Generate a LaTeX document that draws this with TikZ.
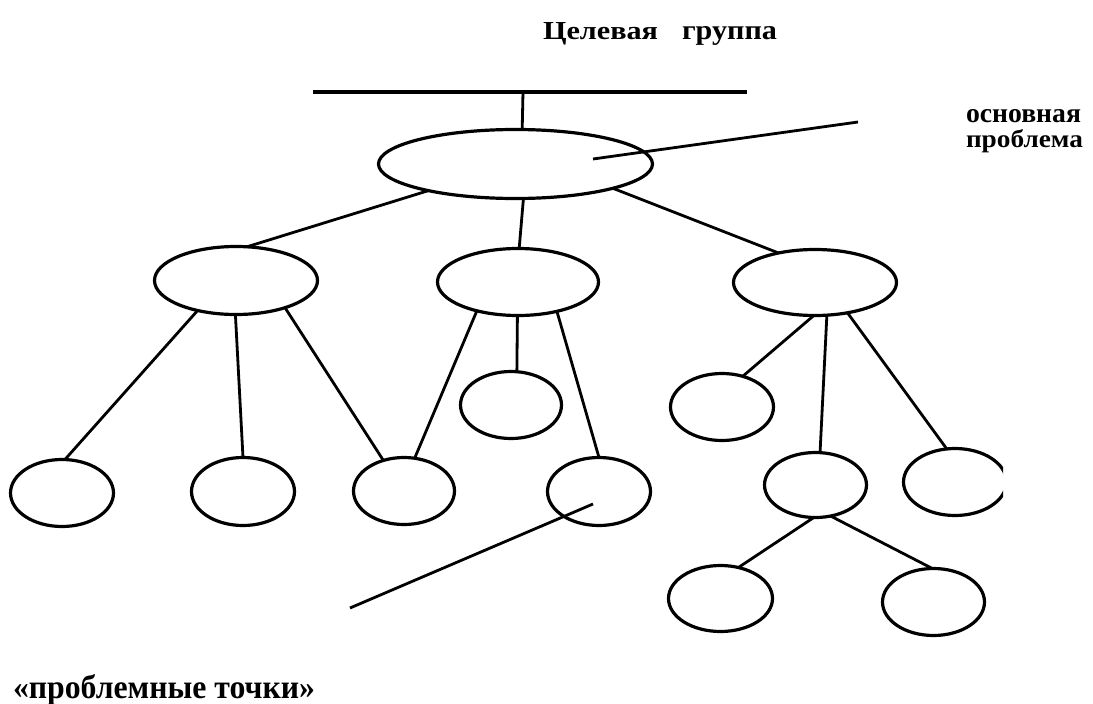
\documentclass[tikz,border=0pt]{standalone}
\usepackage{fontspec}
\setmainfont{Liberation Serif}
\usetikzlibrary{shapes.geometric}
\tikzset{
  oval/.style={draw, ellipse, line width=3.2pt, inner sep=0pt, outer sep=0pt},
  conn/.style={line width=2.8pt},
  lbl/.style={font=\bfseries\fontsize{28}{25}\selectfont, inner sep=0pt, outer sep=0pt}
}
\begin{document}
\begin{tikzpicture}[x=1pt, y=-1pt]
\useasboundingbox (0,0) rectangle (1093,704);
% top bar
\coordinate (hl1) at (313,92);
\coordinate (hl2) at (747,92);
\coordinate (hmid) at (523,92);
\draw[line width=3.4pt] (hl1) -- (hl2);
% ellipses
\node[oval, minimum width=274pt, minimum height=69pt] (top) at (515.5,164) {};
\node[oval, minimum width=163pt, minimum height=68pt] (L) at (236,280.5) {};
\node[oval, minimum width=161pt, minimum height=67pt] (M) at (518,282) {};
\node[oval, minimum width=163pt, minimum height=66pt] (R) at (815,282.5) {};
\node[oval, minimum width=103pt, minimum height=67pt] (l1) at (62,493) {};
\node[oval, minimum width=103pt, minimum height=68pt] (l2) at (243,491.5) {};
\node[oval, minimum width=101pt, minimum height=67pt] (l3) at (404,491) {};
\node[oval, minimum width=103pt, minimum height=68pt] (l4) at (599,491.5) {};
\node[oval, minimum width=101pt, minimum height=67pt] (S) at (511,405) {};
\node[oval, minimum width=103pt, minimum height=67pt] (RA) at (722,407) {};
\node[oval, minimum width=102pt, minimum height=65pt] (RB) at (815.5,485) {};
\begin{scope}
\clip (0,0) rectangle (1003,704);
\node[oval, minimum width=103pt, minimum height=67pt] (RC) at (955,482) {};
\end{scope}
\node[oval, minimum width=104pt, minimum height=66pt] (BL) at (720.5,598.5) {};
\node[oval, minimum width=102pt, minimum height=67pt] (BR) at (933.5,602) {};
% connectors
\draw[conn] (hmid) -- (top.79);
\draw[conn] (top.197) -- (L.72);
\draw[conn] (top.-77) -- (M.88);
\draw[conn] (top.-14.5) -- (R.141);
\draw[conn] (L.-142) -- (l1.85);
\draw[conn] (L.-91) -- (l2.90);
\draw[conn] (L.-29) -- (l3.124);
\draw[conn] (M.-145) -- (l3.72);
\draw[conn] (M.-91) -- (S.80);
\draw[conn] (M.-37) -- (l4.90);
\draw[conn] (R.-92) -- (RA.56);
\draw[conn] (R.-70) -- (RB.82);
\draw[conn] (R.-43) -- (RC.104);
\draw[conn] (RB.-93) -- (BL.60);
\draw[conn] (RB.-64) -- (BR.92);
% pointers
\coordinate (mp1) at (593,159);
\coordinate (mp2) at (858,122);
\draw[conn] (mp1) -- (mp2);
\coordinate (pp1) at (593,504);
\coordinate (pp2) at (350,608);
\draw[conn] (pp1) -- (pp2);
% texts
\node[lbl, anchor=base west] (title) at (543,39)
  {\resizebox{115pt}{17pt}{Целевая}\hspace{24pt}\resizebox{95pt}{13pt}{группа}};
\node[lbl, anchor=base west] (mainp) at (966,122)
  {\begin{tabular}[t]{@{}l@{}}\resizebox{115pt}{13pt}{основная}\\\resizebox{117pt}{18pt}{проблема}\end{tabular}};
\node[lbl, anchor=base west] (pts) at (13,698)
  {\resizebox{302pt}{24pt}{«проблемные точки»}};
\end{tikzpicture}
\end{document}
